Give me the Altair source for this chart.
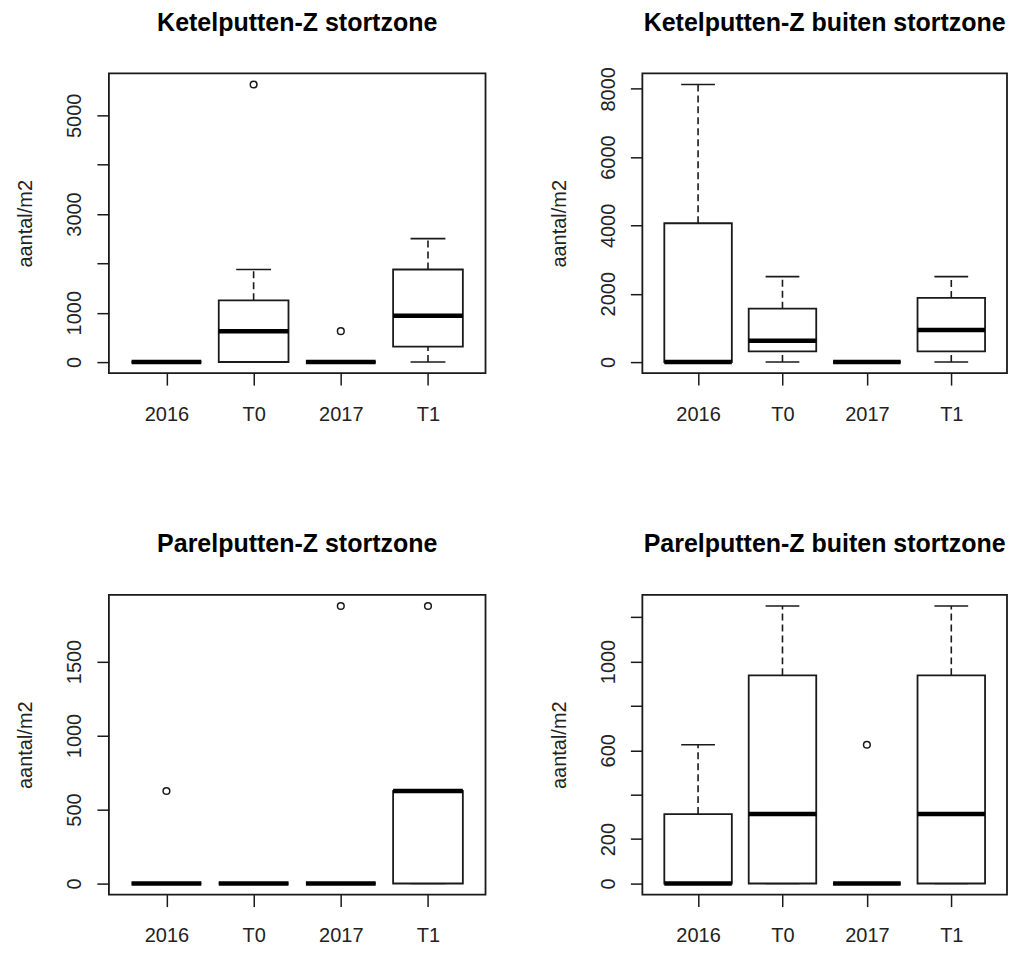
import altair as alt
import pandas as pd

categories = ["2016", "T0", "2017", "T1"]

titles = [
    "Ketelputten-Z stortzone",
    "Ketelputten-Z buiten stortzone",
    "Parelputten-Z stortzone",
    "Parelputten-Z buiten stortzone",
]

# Panel 1: Ketelputten-Z stortzone
p1_lo = [0, 0, 0, 0]
p1_q1 = [0, 0, 0, 312.5]
p1_med = [0, 625, 0, 937.5]
p1_q3 = [0, 1250, 0, 1875]
p1_hi = [0, 1875, 0, 2500]
p1_out_cat = ["T0", "2017"]
p1_out_val = [5625, 625]
p1_ticks = [0, 1000, 2000, 3000, 4000, 5000]
p1_labels = [0, 1000, 3000, 5000]

# Panel 2: Ketelputten-Z buiten stortzone
p2_lo = [0, 0, 0, 0]
p2_q1 = [0, 312.5, 0, 312.5]
p2_med = [0, 625, 0, 937.5]
p2_q3 = [4062.5, 1562.5, 0, 1875]
p2_hi = [8125, 2500, 0, 2500]
p2_out_cat = []
p2_out_val = []
p2_ticks = [0, 2000, 4000, 6000, 8000]
p2_labels = [0, 2000, 4000, 6000, 8000]

# Panel 3: Parelputten-Z stortzone
p3_lo = [0, 0, 0, 0]
p3_q1 = [0, 0, 0, 0]
p3_med = [0, 0, 0, 625]
p3_q3 = [0, 0, 0, 625]
p3_hi = [0, 0, 0, 625]
p3_out_cat = ["2016", "2017", "T1"]
p3_out_val = [625, 1875, 1875]
p3_ticks = [0, 500, 1000, 1500]
p3_labels = [0, 500, 1000, 1500]

# Panel 4: Parelputten-Z buiten stortzone
p4_lo = [0, 0, 0, 0]
p4_q1 = [0, 0, 0, 0]
p4_med = [0, 312.5, 0, 312.5]
p4_q3 = [312.5, 937.5, 0, 937.5]
p4_hi = [625, 1250, 0, 1250]
p4_out_cat = ["2017"]
p4_out_val = [625]
p4_ticks = [0, 200, 400, 600, 800, 1000, 1200]
p4_labels = [0, 200, 600, 1000]

FONT = "Liberation Sans"
INK = "#1a1a1a"
H = 300
W_LEFT = 377
W_RIGHT = 365


def y_domain(lo_vals, hi_vals):
    lo = min(lo_vals)
    hi = max(hi_vals)
    r = hi - lo
    return [lo - 0.04 * r, hi + 0.04 * r]


def panel(title, lo, q1, med, q3, hi, out_cat, out_val, ticks, labels, width):
    df = pd.DataFrame({"cat": categories, "lo": lo, "q1": q1, "med": med, "q3": q3, "hi": hi})
    dfo = pd.DataFrame({"cat": out_cat, "val": out_val})
    dom = y_domain(lo + list(out_val), hi + list(out_val))
    step = width / 4.32
    box_w = 0.8 * step
    cap_w = 0.4 * step

    xaxis = alt.Axis(
        title=None, domain=False, grid=False, tickSize=12, tickColor=INK, tickWidth=1.5,
        labelFont=FONT, labelFontSize=20, labelColor="#222", labelAngle=0,
        labelBaseline="alphabetic", labelPadding=35,
    )
    lab = ",".join(str(v) for v in labels)
    yaxis = alt.Axis(
        title="aantal/m2", values=ticks, format="d",
        labelExpr=f"indexof([{lab}], datum.value) >= 0 ? datum.label : ''",
        domain=False, grid=False, tickSize=12, tickColor=INK, tickWidth=1.5,
        labelFont=FONT, labelFontSize=20, labelColor="#222", labelAngle=270,
        labelAlign="center", labelBaseline="alphabetic", labelPadding=16,
        labelOverlap=False, labelFlush=False,
        titleFont=FONT, titleFontSize=20, titleFontWeight="normal", titleColor="#222",
        titleAngle=270, titleAlign="center", titleBaseline="alphabetic",
        titleX=-77, titleY=H / 2,
    )
    xscale = alt.Scale(type="point", padding=0.66, domain=categories)
    yscale = alt.Scale(domain=dom, nice=False, zero=False)

    def X():
        return alt.X("cat:N", sort=categories, scale=xscale, axis=xaxis)

    def Y(field):
        return alt.Y(f"{field}:Q", scale=yscale, axis=yaxis)

    base = alt.Chart(df)
    up = base.mark_rule(strokeDash=[7, 4], strokeWidth=1.6, color=INK).encode(
        x=X(), y=Y("q3"), y2="hi")
    down = base.mark_rule(strokeDash=[7, 4], strokeWidth=1.6, color=INK).encode(
        x=X(), y=Y("lo"), y2="q1")
    cap_hi = base.mark_tick(size=cap_w, thickness=1.7, color=INK, opacity=1).encode(
        x=X(), y=Y("hi"))
    cap_lo = base.mark_tick(size=cap_w, thickness=1.7, color=INK, opacity=1).encode(
        x=X(), y=Y("lo"))
    box = base.mark_bar(size=box_w, fill="white", stroke=INK, strokeWidth=1.8, opacity=1).encode(
        x=X(), y=Y("q1"), y2="q3")
    median = base.mark_tick(size=box_w, thickness=4.5, color="#000", opacity=1).encode(
        x=X(), y=Y("med"))
    layers = [up, down, cap_hi, cap_lo, box, median]
    if len(out_val) > 0:
        out = alt.Chart(dfo).mark_point(
            shape="circle", filled=False, size=45, strokeWidth=1.5, color=INK, opacity=1
        ).encode(x=X(), y=Y("val"))
        layers.append(out)
    ttl = alt.Chart(pd.DataFrame({"t": [title]})).mark_text(
        font=FONT, fontSize=25, fontWeight="bold", color="#000",
        align="center", baseline="alphabetic",
    ).encode(x=alt.value(width / 2), y=alt.value(-42.5), text="t:N")
    layers.append(ttl)
    return alt.layer(*layers).properties(width=width, height=H)


c1 = panel(titles[0], p1_lo, p1_q1, p1_med, p1_q3, p1_hi, p1_out_cat, p1_out_val, p1_ticks, p1_labels, W_LEFT)
c2 = panel(titles[1], p2_lo, p2_q1, p2_med, p2_q3, p2_hi, p2_out_cat, p2_out_val, p2_ticks, p2_labels, W_RIGHT)
c3 = panel(titles[2], p3_lo, p3_q1, p3_med, p3_q3, p3_hi, p3_out_cat, p3_out_val, p3_ticks, p3_labels, W_LEFT)
c4 = panel(titles[3], p4_lo, p4_q1, p4_med, p4_q3, p4_hi, p4_out_cat, p4_out_val, p4_ticks, p4_labels, W_RIGHT)

chart = alt.concat(
    c1, c2, c3, c4, columns=2, spacing={"row": 222, "column": 157}, bounds="flush"
).properties(
    padding={"left": 7, "top": 1, "right": 0, "bottom": 0}
).configure(
    font=FONT, background="white"
).configure_view(
    stroke=INK, strokeWidth=1.8
)

chart.save("out.html", embed_options={"renderer": "svg", "actions": False})
